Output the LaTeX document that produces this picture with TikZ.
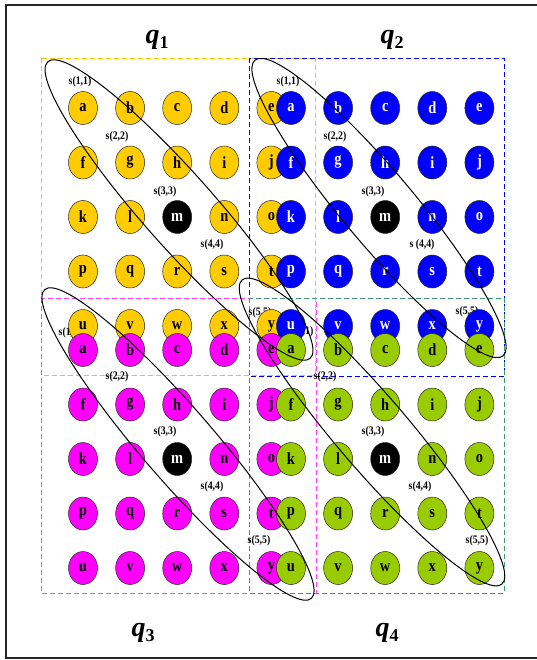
\documentclass[tikz,border=0pt]{standalone}
\usepackage{fontspec}
\setmainfont{Liberation Serif}
\newfontfamily\narrowfont{Liberation Serif}[FakeStretch=0.85]
\usepackage{xcolor}
\definecolor{cYellow}{HTML}{FFCC00}
\definecolor{cBlue}{HTML}{0000FF}
\definecolor{cPink}{HTML}{FF00FF}
\definecolor{cGreen}{HTML}{99CC00}
\definecolor{cYellowLine}{HTML}{FFC000}
\definecolor{cPinkLine}{HTML}{FF40FF}
\definecolor{cGreenLine}{HTML}{3C9A6C}
\usepackage{tikz}
\usetikzlibrary{shapes.geometric}
\tikzset{
  node-cell/.style={ellipse,draw=black!85,line width=0.5pt,
    minimum width=29pt,minimum height=33pt,inner sep=0pt,
    font=\narrowfont\bfseries\fontsize{17}{17}\selectfont},
  node-label/.style={inner sep=0pt,
    font=\narrowfont\bfseries\fontsize{11.5}{12}\selectfont},
  node-title/.style={inner sep=0pt,font=\bfseries\fontsize{28}{30}\selectfont},
  block-frame/.style={dash pattern=on 5pt off 3pt,line width=0.8pt},
  diag-loop/.style={line width=1pt,draw=black},
}
\newcommand{\qlabel}[1]{\textit{q}\raisebox{-5pt}{\fontsize{18}{18}\selectfont #1}}

\begin{document}
\begin{tikzpicture}[x=1pt,y=-1pt]
  \useasboundingbox (0,0) rectangle (537,660);
  \draw[line width=1.5pt,black!85] (6,5) rectangle (540,658);
  % titles
  \node[node-title] (t1) at (157,40) {\qlabel{1}};
  \node[node-title] (t2) at (392,40) {\qlabel{2}};
  \node[node-title] (t3) at (143,633) {\qlabel{3}};
  \node[node-title] (t4) at (387,633) {\qlabel{4}};
  % dashed blocks
  \draw[block-frame,cYellowLine] (41,58) rectangle (315,375);
  \draw[block-frame,cBlue] (249,58) rectangle (504,376);
  \draw[block-frame,cPinkLine] (41,298) rectangle (316,593);
  \draw[block-frame,cGreenLine] (249,298) rectangle (504,593);
  % s(k,k) labels
  \foreach \i/\x/\y in {1/80/82,2/117/137,3/165/192,4/212/245,5/260/313}
    \node[node-label] (q1-s\i) at (\x,\y) {s(\i,\i)};
  \foreach \i/\x/\y in {1/288/82,2/335/137,3/373/192,5/467/312}
    \node[node-label] (q2-s\i) at (\x,\y) {s(\i,\i)};
  \node[node-label] (q2-s4) at (422,245) {s (4,4)};
  \foreach \i/\x/\y in {1/70/333,2/117/377,3/165/432,4/212/487,5/259/541}
    \node[node-label] (q3-s\i) at (\x,\y) {s(\i,\i)};
  \foreach \i/\x/\y in {1/302/332,2/325/377,3/373/432,4/420/487,5/477/541}
    \node[node-label] (q4-s\i) at (\x,\y) {s(\i,\i)};
  % the four 5x5 blocks
  \foreach \q/\xo/\yo/\fc/\tc in {1/83/108/cYellow/black,2/291/108/cBlue/white,
      3/83/350/cPink/black,4/291/350/cGreen/black}{
    \foreach \ch [count=\k from 0] in {a,...,y}{
      \pgfmathtruncatemacro\col{mod(\k,5)}
      \pgfmathtruncatemacro\row{(\k-\col)/5}
      \ifnum\k=12 \def\cf{black}\def\ct{white}\else\let\cf\fc\let\ct\tc\fi
      \node[node-cell,fill=\cf,text=\ct] (q\q-\ch) at (\xo+47.1*\col,\yo+54.5*\row) {\ch};
    }
  }
  % diagonal loops
  \draw[diag-loop,rotate around={-48.5:(179,210)}] (179,210) ellipse [x radius=198,y radius=36];
  \draw[diag-loop,rotate around={-50:(379,208)}] (379,208) ellipse [x radius=193,y radius=36];
  \draw[diag-loop,rotate around={-49.2:(178,444)}] (178,444) ellipse [x radius=204,y radius=36];
  \draw[diag-loop,rotate around={-49.5:(372,432)}] (372,432) ellipse [x radius=200,y radius=36];
\end{tikzpicture}
\end{document}
